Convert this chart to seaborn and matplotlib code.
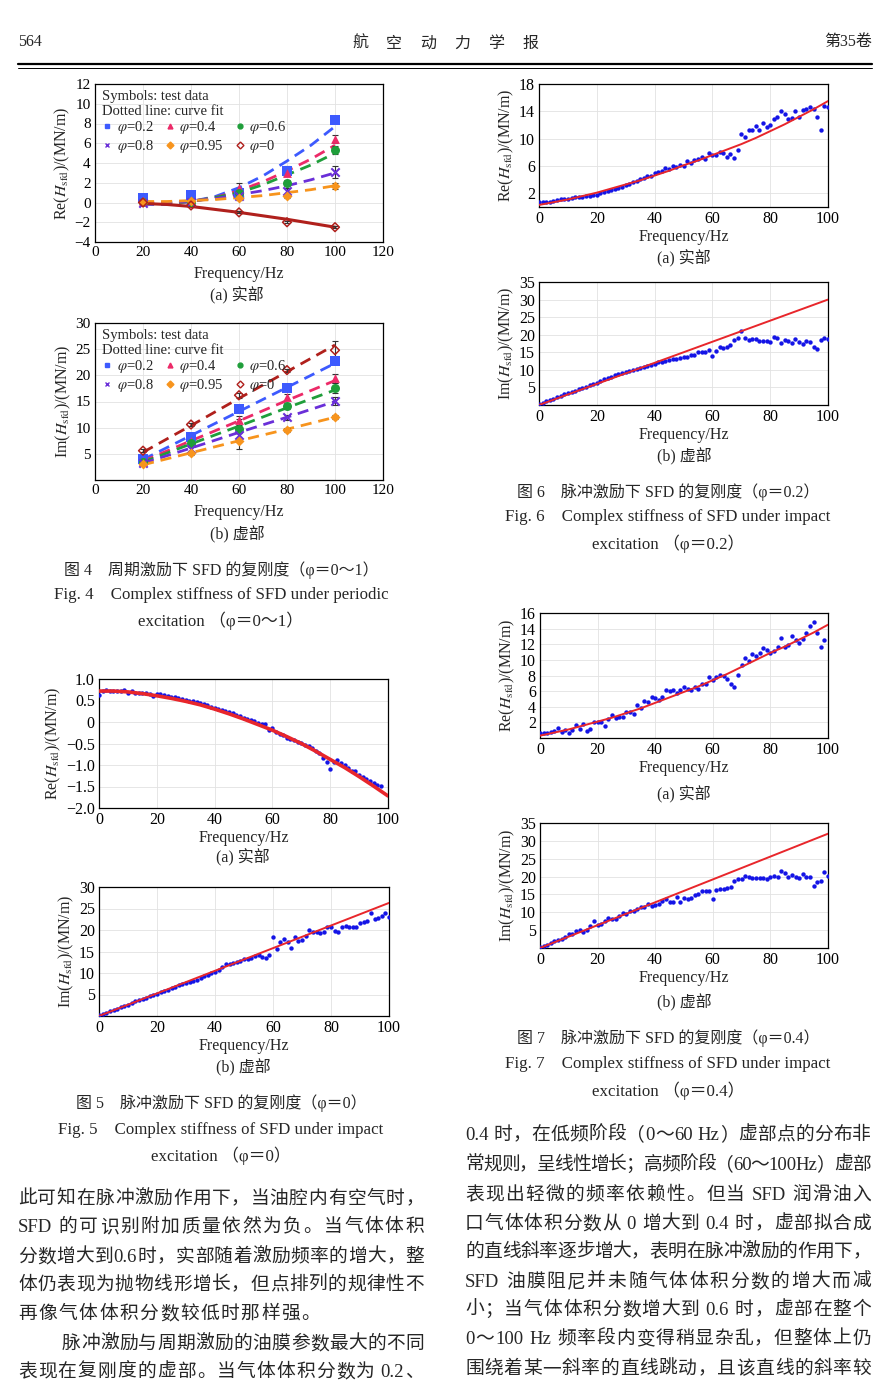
import re
import numpy as np
import matplotlib
matplotlib.use('Agg')
import matplotlib.pyplot as plt
from matplotlib.lines import Line2D
import seaborn as sns

W, H = 890, 1398

# ---------------- data: Fig. 4 periodic excitation ----------------
freq_p = [20, 40, 60, 80, 100]
fit_freq_p = [20, 30, 40, 50, 60, 70, 80, 90, 100]
phi_names = ['0.2', '0.4', '0.6', '0.8', '0.95', '0']

re_p02 = [0.5, 0.8, 1.0, 3.2, 8.4]
re_p04 = [0.2, 0.2, 1.5, 3.0, 6.4]
re_p06 = [0.1, 0.1, 1.0, 2.0, 5.3]
re_p08 = [0.0, 0.1, 0.7, 1.2, 3.1]
re_p095 = [0.1, 0.2, 0.5, 0.7, 1.7]
re_p0 = [0.0, -0.3, -1.0, -2.0, -2.5]
re_err02 = [0.15, 0.3, 0.2, 0.5, 0.35]
re_err04 = [0.1, 0.1, 0.5, 0.3, 0.4]
re_err06 = [0.1, 0.1, 0.3, 0.3, 0.4]
re_err08 = [0.05, 0.05, 0.2, 0.3, 0.6]
re_err095 = [0.05, 0.05, 0.2, 0.2, 0.3]
re_err0 = [0.05, 0.1, 0.1, 0.1, 0.1]
re_fit02 = [-0.2, -0.2, 0.1, 0.6, 1.5, 2.7, 4.2, 5.8, 7.7]
re_fit04 = [-0.1, -0.1, 0.1, 0.5, 1.2, 2.1, 3.2, 4.4, 5.8]
re_fit06 = [-0.1, -0.05, 0.1, 0.5, 1.0, 1.8, 2.8, 3.8, 5.0]
re_fit08 = [0.0, 0.0, 0.15, 0.4, 0.8, 1.2, 1.7, 2.3, 3.0]
re_fit095 = [0.1, 0.1, 0.2, 0.3, 0.5, 0.7, 1.0, 1.3, 1.7]
re_fit0 = [-0.1, -0.2, -0.4, -0.7, -1.0, -1.35, -1.7, -2.1, -2.5]

im_p02 = [4.0, 8.2, 13.6, 17.5, 22.8]
im_p04 = [3.7, 7.5, 11.4, 15.8, 19.4]
im_p06 = [3.5, 7.0, 9.7, 14.1, 17.6]
im_p08 = [3.2, 6.0, 8.6, 12.0, 15.1]
im_p095 = [3.0, 5.1, 7.5, 9.6, 12.1]
im_p0 = [5.6, 10.6, 16.2, 21.0, 24.8]
im_err02 = [0.3, 0.5, 0.5, 0.5, 0.5]
im_err04 = [0.3, 0.5, 0.8, 0.6, 0.8]
im_err06 = [0.3, 0.6, 2.0, 0.6, 1.0]
im_err08 = [0.2, 0.4, 0.8, 0.5, 0.7]
im_err095 = [0.2, 0.3, 1.5, 0.4, 0.4]
im_err0 = [0.3, 0.3, 0.5, 0.3, 1.7]
im_fit02 = [3.9, 8.5, 13.1, 17.7, 22.3]
im_fit04 = [3.6, 7.5, 11.3, 15.2, 19.0]
im_fit06 = [3.4, 6.9, 10.3, 13.8, 17.2]
im_fit08 = [3.2, 6.1, 9.1, 12.0, 15.0]
im_fit095 = [2.9, 5.2, 7.5, 9.7, 12.0]
im_fit0 = [5.3, 10.4, 15.6, 20.7, 25.8]

# ---------------- data: impact excitation (1.25 Hz steps) ----------------
freq_imp = np.arange(81) * 1.25
fit_freq = [0, 5, 10, 15, 20, 25, 30, 35, 40, 45, 50, 55, 60, 65, 70, 75, 80, 85, 90, 95, 100]
line_freq = [0, 100]

re_imp0 = [0.62, 0.72, 0.74, 0.72, 0.73, 0.72, 0.71, 0.74, 0.67, 0.71,
           0.68, 0.68, 0.68, 0.67, 0.66, 0.61, 0.66, 0.64, 0.63, 0.61,
           0.59, 0.57, 0.56, 0.54, 0.52, 0.50, 0.48, 0.46, 0.44, 0.41,
           0.39, 0.36, 0.33, 0.31, 0.28, 0.26, 0.23, 0.20, 0.17, 0.13,
           0.10, 0.08, 0.05, 0.02, -0.02, -0.04, -0.05, -0.18, -0.15, -0.24,
           -0.28, -0.31, -0.37, -0.40, -0.43, -0.46, -0.49, -0.53, -0.56, -0.60,
           -0.67, -0.73, -0.84, -0.93, -1.10, -0.94, -0.88, -0.95, -1.00, -1.07,
           -1.13, -1.15, -1.23, -1.28, -1.33, -1.37, -1.42, -1.47, -1.49]
fit_re0 = [0.72, 0.72, 0.70, 0.66, 0.61, 0.55, 0.48, 0.40, 0.30, 0.19, 0.07,
           -0.06, -0.19, -0.34, -0.50, -0.68, -0.87, -1.06, -1.27, -1.49, -1.72]

im_imp0 = [0.2, 0.5, 0.8, 1.1, 1.4, 1.7, 2.0, 2.3, 2.6, 3.0,
           3.4, 3.7, 4.0, 4.3, 4.6, 4.9, 5.2, 5.5, 5.8, 6.1,
           6.4, 6.8, 7.1, 7.4, 7.7, 8.0, 8.2, 8.4, 8.9, 9.3,
           9.6, 9.9, 10.3, 10.8, 11.4, 12.0, 12.0, 12.3, 12.6, 12.9,
           13.2, 13.3, 13.6, 13.9, 14.1, 13.8, 13.4, 14.1, 18.4, 15.6,
           17.2, 18.0, 17.2, 15.9, 18.4, 17.5, 17.7, 18.5, 19.9, 19.6,
           19.5, 19.3, 19.5, 20.8, 20.6, 19.8, 19.6, 20.8, 20.9, 20.8,
           20.8, 20.7, 21.6, 21.8, 22.0, 24.0, 22.6, 22.7, 23.2, 23.9,
           23.0]
fit_im0 = [0.0, 26.3]

re_imp2 = [0.8, 0.7, 0.8, 0.8, 0.9, 1.0, 1.1, 1.1, 1.2, 1.3,
           1.4, 1.4, 1.5, 1.6, 1.6, 1.7, 1.8, 2.0, 2.2, 2.3,
           2.5, 2.6, 2.8, 3.0, 3.2, 3.4, 3.6, 3.8, 4.1, 4.3,
           4.6, 4.5, 5.0, 5.1, 5.3, 5.7, 5.6, 6.0, 5.8, 6.2,
           6.0, 6.7, 6.5, 6.9, 7.0, 7.3, 7.0, 7.9, 7.6, 7.6,
           8.0, 7.9, 7.3, 7.7, 7.2, 8.3, 10.7, 10.3, 11.3, 11.3,
           11.9, 11.3, 12.3, 11.7, 12.0, 12.9, 13.1, 14.0, 13.6, 12.9,
           13.0, 14.1, 13.1, 14.2, 14.3, 14.6, 14.4, 13.1, 11.2, 14.8,
           14.6]
fit_re2 = [0.3, 0.7, 1.1, 1.6, 2.1, 2.7, 3.3, 3.9, 4.6, 5.3, 6.1,
           6.8, 7.6, 8.4, 9.2, 10.1, 11.1, 12.1, 13.2, 14.3, 15.5]

im_imp2 = [0.2, 0.6, 1.0, 1.4, 1.8, 2.2, 2.6, 3.0, 3.3, 3.7,
           4.1, 4.5, 4.8, 5.2, 5.6, 6.0, 6.4, 6.9, 7.3, 7.7,
           8.0, 8.4, 8.8, 9.0, 9.4, 9.8, 10.1, 10.3, 10.6, 10.9,
           11.2, 11.5, 11.8, 12.1, 12.2, 12.5, 12.8, 13.0, 13.1, 13.3,
           13.6, 13.6, 14.1, 14.3, 15.0, 15.2, 15.2, 15.6, 14.0, 15.4,
           16.4, 16.1, 16.5, 17.0, 18.6, 19.0, 21.0, 19.1, 18.6, 18.8,
           18.9, 18.2, 18.1, 18.2, 18.0, 19.4, 19.0, 17.6, 18.4, 18.3,
           17.6, 18.9, 17.8, 17.5, 18.1, 17.8, 16.5, 16.0, 18.4, 19.1,
           18.9]
fit_im2 = [0.0, 30.0]

re_imp4 = [0.7, 0.7, 0.6, 0.8, 0.9, 1.3, 0.8, 1.0, 0.7, 1.0,
           1.7, 1.2, 1.8, 0.9, 1.1, 2.0, 2.1, 2.1, 1.5, 2.4,
           2.9, 2.5, 2.7, 2.7, 3.3, 3.3, 3.1, 4.2, 3.8, 4.7,
           4.6, 5.2, 5.1, 4.9, 5.3, 6.1, 6.0, 6.1, 5.7, 6.2,
           6.5, 6.3, 6.2, 6.5, 6.3, 6.9, 6.9, 7.8, 7.4, 7.8,
           8.1, 7.9, 7.5, 6.9, 6.5, 8.1, 9.3, 10.2, 9.8, 10.8,
           10.5, 10.9, 11.5, 11.3, 10.9, 11.1, 11.7, 12.8, 11.7, 11.9,
           13.1, 12.5, 12.1, 12.7, 13.4, 14.4, 14.8, 13.5, 11.7, 12.6]
fit_re4 = [0.3, 0.7, 1.1, 1.6, 2.1, 2.6, 3.2, 3.8, 4.5, 5.2, 5.9,
           6.6, 7.4, 8.2, 9.1, 10.0, 10.9, 11.7, 12.6, 13.5, 14.5]

im_imp4 = [0.2, 0.5, 0.8, 1.5, 2.1, 2.3, 2.5, 3.0, 4.0, 3.9,
           4.9, 5.1, 4.5, 5.1, 6.3, 7.5, 6.5, 6.7, 7.7, 8.5,
           8.1, 8.2, 9.0, 9.8, 9.6, 10.4, 10.5, 11.0, 11.6, 11.4,
           12.4, 11.9, 12.0, 12.4, 13.2, 13.6, 12.9, 12.9, 14.2, 13.0,
           14.0, 13.6, 14.1, 14.9, 15.0, 15.9, 16.0, 16.0, 13.6, 16.2,
           16.5, 16.4, 16.7, 17.2, 18.8, 19.4, 19.4, 20.1, 20.0, 19.6,
           19.6, 19.7, 19.5, 19.3, 19.8, 20.1, 19.9, 21.5, 20.9, 19.9,
           20.4, 19.8, 19.6, 20.6, 19.8, 19.8, 17.4, 18.5, 18.7, 21.4,
           20.2]
fit_im4 = [0.0, 32.0]

# ---------------- text ----------------
left_lines = ['此可知在脉冲激励作用下，当油腔内有空气时，',
              'SFD的可识别附加质量依然为负。当气体体积',
              '分数增大到0.6时，实部随着激励频率的增大，整',
              '体仍表现为抛物线形增长，但点排列的规律性不',
              '再像气体体积分数较低时那样强。',
              '脉冲激励与周期激励的油膜参数最大的不同',
              '表现在复刚度的虚部。当气体体积分数为0.2、']
right_lines = ['0.4时，在低频阶段（0～60 Hz）虚部点的分布非',
               '常规则，呈线性增长；高频阶段（60～100 Hz）虚部',
               '表现出轻微的频率依赖性。但当SFD润滑油入',
               '口气体体积分数从0增大到0.4时，虚部拟合成',
               '的直线斜率逐步增大，表明在脉冲激励的作用下，',
               'SFD油膜阻尼并未随气体体积分数的增大而减',
               '小；当气体体积分数增大到0.6时，虚部在整个',
               '0～100 Hz频率段内变得稍显杂乱，但整体上仍',
               '围绕着某一斜率的直线跳动，且该直线的斜率较']

# ---------------- style ----------------
sns.set_style('white')
plt.rcParams['font.family'] = ['Liberation Serif', 'Noto Sans CJK SC']
plt.rcParams['mathtext.fontset'] = 'stix'
plt.rcParams['axes.unicode_minus'] = True

BLUE_PT = '#1414e6'
RED_LN = '#e8262b'
C02, C04, C06 = '#3d5afe', '#ec2a68', '#1f9e3a'
C08, C095, C0 = '#6a2fd8', '#f7941d', '#b0201c'

fig = plt.figure(figsize=(W / 100, H / 100), dpi=100)
renderer = fig.canvas.get_renderer()


def px(x, y):
    return x / W, 1 - y / H


def make_ax(l, t, r, b, fs=11.5):
    ax = fig.add_axes([l / W, 1 - b / H, (r - l) / W, (b - t) / H])
    for sp in ax.spines.values():
        sp.set_linewidth(0.9)
        sp.set_color('black')
    ax.grid(True, color='#e2e2e2', linewidth=0.6)
    ax.set_axisbelow(True)
    ax.tick_params(direction='in', length=3, width=0.8, labelsize=fs, pad=3,
                   colors='black')
    return ax


TOKEN = re.compile(r'[A-Za-z0-9.]+|[^\sA-Za-z0-9.]')


def is_word(t):
    return t[0].isascii() and t[0].isalnum()


def is_han(t):
    return '\u4e00' <= t[0] <= '\u9fff'


def text_line(x0, x1, y, s, size=13.5, justify=True, gap=1.0, pad=5.0):
    toks = TOKEN.findall(s)
    objs = [fig.text(0, 1 - y / H, t, fontsize=size, ha='left', va='baseline')
            for t in toks]
    widths = [o.get_window_extent(renderer).width for o in objs]
    # ascii runs get a little air next to Chinese characters or other words
    pads = []
    for a, b in zip(toks[:-1], toks[1:]):
        air = (is_word(a) and (is_han(b) or is_word(b))) or (is_word(b) and is_han(a))
        pads.append(pad if air else 0.0)
    pads.append(0.0)
    if justify and len(objs) > 1:
        gap = (x1 - x0 - sum(widths) - sum(pads)) / (len(objs) - 1)
        if gap < 0:
            pads = [0.0] * len(pads)
            gap = (x1 - x0 - sum(widths)) / (len(objs) - 1)
    x = x0
    for o, w, p in zip(objs, widths, pads):
        o.set_x(x / W)
        x += w + gap + p


def caption(x, y, s, size):
    fig.text(*px(x, y), s, fontsize=size, ha='center', va='center')


# ---------------- header ----------------
fig.text(*px(18, 42), '564', fontsize=11.5, ha='left', va='center')
fig.text(*px(872, 42), '第35卷', fontsize=11.5, ha='right', va='center')
text_line(352, 538, 48, '航空动力学报', size=11.5)
fig.add_artist(Line2D([18 / W, 872 / W], [1 - 63.5 / H] * 2, color='black', lw=1.6))
fig.add_artist(Line2D([18 / W, 872 / W], [1 - 67.5 / H] * 2, color='black', lw=0.7))

# ---------------- Fig. 4 ----------------
series_style = [(C02, 's', 42), (C04, '^', 40), (C06, 'o', 42),
                (C08, 'x', 36), (C095, 'D', 26), (C0, 'D', 20)]


def periodic_panel(rect, pts, errs, fit_x, fits, ylim, yticks, ylabel):
    ax = make_ax(*rect, fs=11)
    for i, (c, m, s) in enumerate(series_style):
        solid = (phi_names[i] == '0' and fit_x is fit_freq_p)
        sns.lineplot(x=fit_x, y=fits[i], ax=ax, color=c, linewidth=2.2 if solid else 2.0,
                     linestyle='-' if solid else (0, (4, 2.5)), zorder=2)
        ax.errorbar(freq_p, pts[i], yerr=errs[i], fmt='none', ecolor='#333333',
                    elinewidth=0.8, capsize=2, capthick=0.8, zorder=3)
        if m == 'x':
            sns.scatterplot(x=freq_p, y=pts[i], ax=ax, color=c, marker=m, s=s,
                            linewidth=1.5, zorder=4)
        elif i == 5:
            sns.scatterplot(x=freq_p, y=pts[i], ax=ax, color=c, facecolor='none',
                            edgecolor=c, marker=m, s=s, linewidth=1.1, zorder=4)
        else:
            sns.scatterplot(x=freq_p, y=pts[i], ax=ax, color=c, marker=m, s=s,
                            linewidth=0, zorder=4)
    ax.set_xlim(0, 120)
    ax.set_xticks(range(0, 121, 20))
    ax.set_ylim(*ylim)
    ax.set_yticks(yticks)
    ax.set_xlabel('Frequency/Hz', fontsize=11.5, labelpad=5)
    ax.set_ylabel(ylabel, fontsize=11.5, labelpad=2)
    order = [0, 3, 1, 4, 2, 5]
    handles = []
    for i in order:
        c, m, s = series_style[i]
        handles.append(Line2D([], [], ls='', marker=m, color=c, ms=3.5,
                              mfc='none' if i == 5 else c, mew=1.0,
                              label=r'$\varphi$=' + phi_names[i]))
    ax.legend(handles=handles, ncol=3, loc='upper left', bbox_to_anchor=(0.0, 1.01),
              frameon=False, title='Symbols: test data\nDotted line: curve fit',
              alignment='left', fontsize=10.5, title_fontsize=10.5,
              handlelength=0.7, handletextpad=0.3, columnspacing=0.75,
              labelspacing=0.1, borderpad=0.3, borderaxespad=0.2)
    return ax


periodic_panel((95, 84, 383, 242),
               [re_p02, re_p04, re_p06, re_p08, re_p095, re_p0],
               [re_err02, re_err04, re_err06, re_err08, re_err095, re_err0],
               fit_freq_p,
               [re_fit02, re_fit04, re_fit06, re_fit08, re_fit095, re_fit0],
               (-4, 12), range(-4, 13, 2), r'Re($H_{\rm sfd}$)/(MN/m)')
caption(237, 296, '(a) 实部', 11.5)

periodic_panel((95, 323, 383, 480),
               [im_p02, im_p04, im_p06, im_p08, im_p095, im_p0],
               [im_err02, im_err04, im_err06, im_err08, im_err095, im_err0],
               freq_p,
               [im_fit02, im_fit04, im_fit06, im_fit08, im_fit095, im_fit0],
               (0, 30), range(5, 31, 5), r'Im($H_{\rm sfd}$)/(MN/m)')
caption(237, 535, '(b) 虚部', 11.5)

caption(221, 570, '图 4    周期激励下 SFD 的复刚度（φ＝0～1）', 11.5)
caption(221, 595, 'Fig. 4    Complex stiffness of SFD under periodic', 12.2)
caption(221, 621, 'excitation （φ＝0～1）', 12.2)


# ---------------- impact panels ----------------
def impact_panel(rect, f_pts, v_pts, f_fit, v_fit, ylim, yticks, yticklabels,
                 ylabel, lw=1.4):
    ax = make_ax(*rect)
    sns.scatterplot(x=f_pts, y=v_pts, ax=ax, color=BLUE_PT, s=10, linewidth=0,
                    zorder=3)
    sns.lineplot(x=f_fit, y=v_fit, ax=ax, color=RED_LN, linewidth=lw, zorder=4)
    ax.set_xlim(0, 100)
    ax.set_xticks(range(0, 101, 20))
    ax.set_ylim(*ylim)
    ax.set_yticks(yticks)
    ax.set_yticklabels(yticklabels)
    ax.set_xlabel('Frequency/Hz', fontsize=11.5, labelpad=1)
    ax.set_ylabel(ylabel, fontsize=11.5, labelpad=2)
    return ax


RE_LABEL = r'Re($H_{\rm sfd}$)/(MN/m)'
IM_LABEL = r'Im($H_{\rm sfd}$)/(MN/m)'

# Fig. 5
impact_panel((99, 679, 388, 808), freq_imp[:len(re_imp0)], re_imp0, fit_freq, fit_re0,
             (-2, 1), [-2, -1.5, -1, -0.5, 0, 0.5, 1],
             ['−2.0', '−1.5', '−1.0', '−0.5', '0', '0.5', '1.0'], RE_LABEL, lw=2.6)
caption(243, 858, '(a) 实部', 11.5)
impact_panel((99, 887, 389, 1016), freq_imp, im_imp0, line_freq, fit_im0,
             (0, 30), range(5, 31, 5), [str(v) for v in range(5, 31, 5)], IM_LABEL)
caption(243, 1068, '(b) 虚部', 11.5)
caption(221, 1103, '图 5    脉冲激励下 SFD 的复刚度（φ＝0）', 11.5)
caption(221, 1130, 'Fig. 5    Complex stiffness of SFD under impact', 12.2)
caption(221, 1156, 'excitation （φ＝0）', 12.2)

# Fig. 6
impact_panel((539, 84, 828, 207), freq_imp, re_imp2, fit_freq, fit_re2,
             (0, 18), range(2, 19, 4), [str(v) for v in range(2, 19, 4)], RE_LABEL)
caption(684, 259, '(a) 实部', 11.5)
impact_panel((539, 282, 828, 405), freq_imp, im_imp2, line_freq, fit_im2,
             (0, 35), range(5, 36, 5), [str(v) for v in range(5, 36, 5)], IM_LABEL)
caption(684, 457, '(b) 虚部', 11.5)
caption(668, 492, '图 6    脉冲激励下 SFD 的复刚度（φ＝0.2）', 11.5)
caption(668, 517, 'Fig. 6    Complex stiffness of SFD under impact', 12.2)
caption(668, 544, 'excitation （φ＝0.2）', 12.2)

# Fig. 7
impact_panel((540, 613, 828, 738), freq_imp[:len(re_imp4)], re_imp4, fit_freq, fit_re4,
             (0, 16), range(2, 17, 2), [str(v) for v in range(2, 17, 2)], RE_LABEL)
caption(684, 795, '(a) 实部', 11.5)
impact_panel((540, 823, 828, 948), freq_imp, im_imp4, line_freq, fit_im4,
             (0, 35), range(5, 36, 5), [str(v) for v in range(5, 36, 5)], IM_LABEL)
caption(684, 1003, '(b) 虚部', 11.5)
caption(668, 1038, '图 7    脉冲激励下 SFD 的复刚度（φ＝0.4）', 11.5)
caption(668, 1064, 'Fig. 7    Complex stiffness of SFD under impact', 12.2)
caption(668, 1091, 'excitation （φ＝0.4）', 12.2)

# ---------------- body text ----------------
left_y = [1197, 1225, 1255, 1283, 1312, 1342, 1370]
for i, (s, y) in enumerate(zip(left_lines, left_y)):
    x0 = 62 if i == 5 else 18
    text_line(x0, 424, y + 7, s, justify=(i != 4), gap=1.5)

right_y = [1133, 1163, 1193, 1222, 1250, 1280, 1308, 1337, 1367]
for s, y in zip(right_lines, right_y):
    text_line(465, 871, y + 7, s)

fig.savefig('out.png', dpi=100, facecolor='white')
